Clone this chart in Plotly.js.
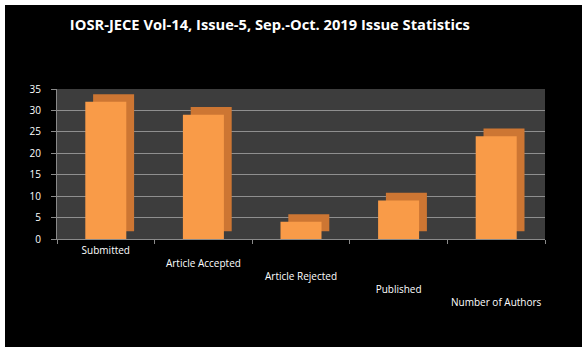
<!DOCTYPE html>
<html><head><meta charset="utf-8">
<script src="https://cdn.plot.ly/plotly-3.0.1.min.js"></script>
<style>html,body{margin:0;padding:0;background:#fff;width:584px;height:353px;overflow:hidden}
#chart{position:absolute;left:5px;top:5px;width:577px;height:342px;}</style>
</head><body><div id="chart"></div>
<script>
const categories = ["Submitted", "Article Accepted", "Article Rejected", "Published", "Number of Authors"];
const values = [32, 29, 4, 9, 24];
const valueTicks = [0, 5, 10, 15, 20, 25, 30, 35];
const chartTitle = "IOSR-JECE Vol-14, Issue-5, Sep.-Oct. 2019 Issue Statistics";

// staggered category labels (the original's floor edge slopes down to the right)
const tickText = categories.map((c, i) => '<br>'.repeat(i) + c);

const depthLift = 1.8;    // vertical depth of the pseudo-3D box, in value units
const barWidth = 0.42;

const depthTrace = {
  type: 'bar', x: categories, y: values, base: depthLift,
  width: barWidth, offset: -barWidth / 2 + 0.08,
  marker: {color: '#CD7633', line: {width: 0}},
  hoverinfo: 'skip'
};
const frontTrace = {
  type: 'bar', x: categories, y: values,
  width: barWidth, offset: -barWidth / 2,
  marker: {color: '#F99B48', line: {width: 0}},
  hoverinfo: 'skip'
};

const tickFont = {family: 'Open Sans, sans-serif', size: 10, color: '#ffffff'};
const layout = {
  width: 577, height: 342,
  paper_bgcolor: '#000000', plot_bgcolor: '#3d3d3d',
  margin: {l: 52, r: 37, t: 84, b: 108},
  barmode: 'overlay', bargap: 0.5,
  showlegend: false,
  title: {text: chartTitle, x: 0.459, xanchor: 'center', xref: 'container', y: 0.942, yanchor: 'middle', yref: 'container',
          font: {family: 'Open Sans, sans-serif', size: 14.7, color: '#ffffff', weight: 'bold'}},
  xaxis: {
    type: 'category', range: [-0.5, 4.5], tickvals: categories, ticktext: tickText,
    showgrid: false, zeroline: false, showline: true, linecolor: '#8a8a8a', linewidth: 1,
    ticks: 'outside', tickson: 'boundaries', ticklen: 4, tickcolor: '#8a8a8a',
    tickfont: tickFont, tickangle: 0, ticklabelstandoff: 2, title: {text: ''}
  },
  yaxis: {
    range: [0, 35], tickvals: valueTicks, showgrid: true, gridcolor: '#8f8f8f', gridwidth: 1,
    zeroline: false, showline: true, linecolor: '#8a8a8a', linewidth: 1,
    ticks: 'outside', ticklen: 5, tickcolor: '#8a8a8a', ticklabelstandoff: 8,
    tickfont: tickFont, title: {text: ''}
  }
};
Plotly.newPlot('chart', [depthTrace, frontTrace], layout, {staticPlot: true, displayModeBar: false});
</script></body></html>
